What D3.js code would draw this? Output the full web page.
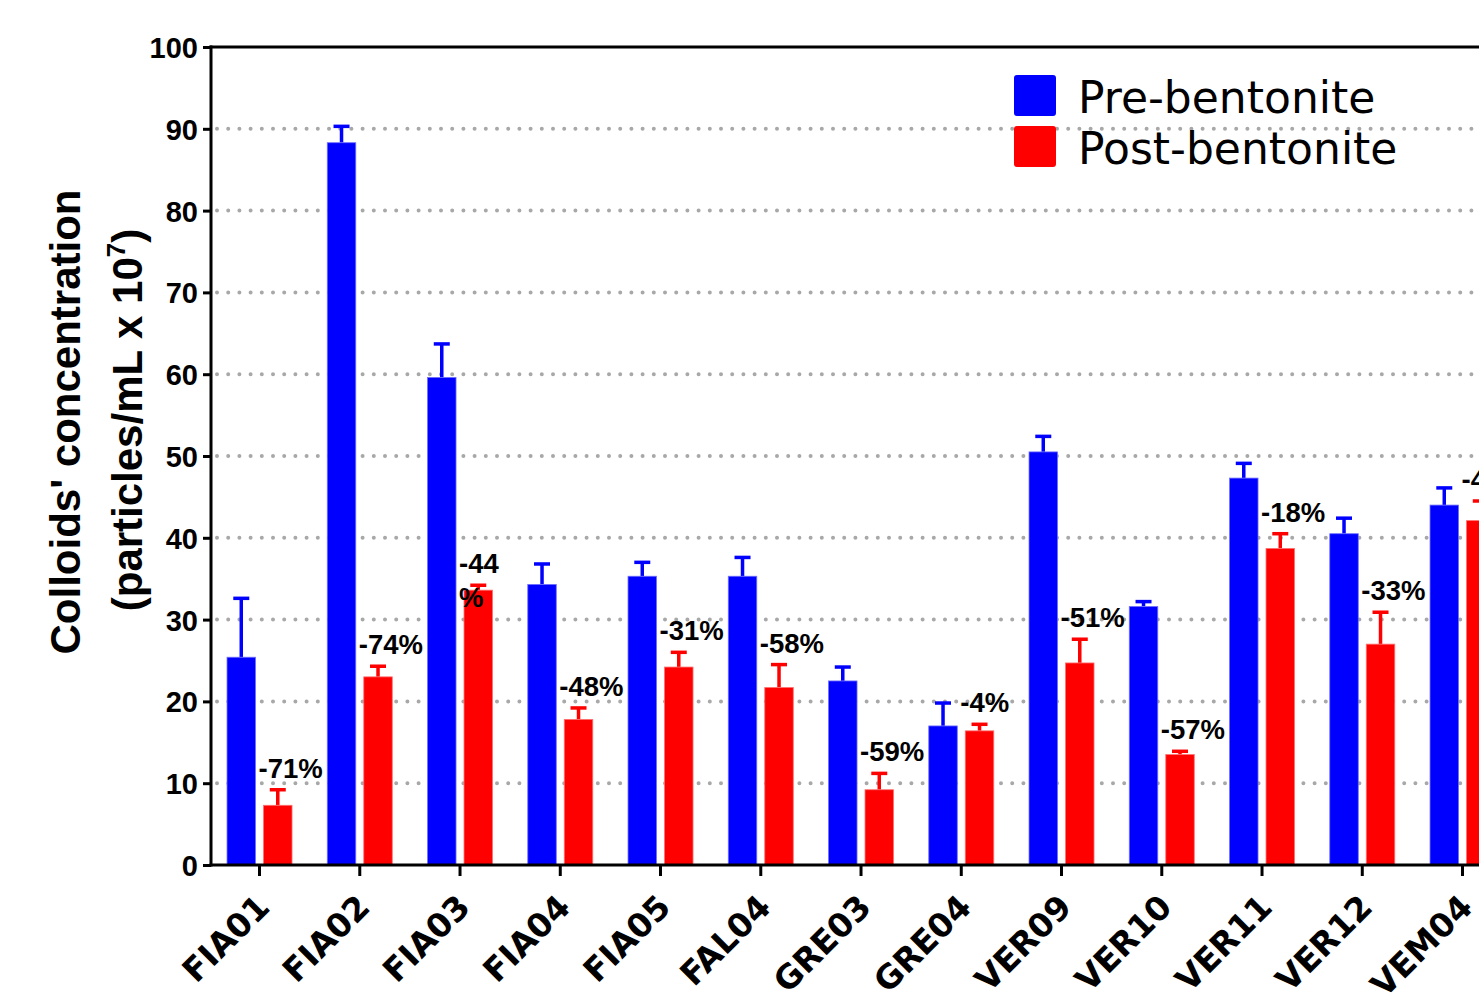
<!DOCTYPE html>
<html>
<head>
<meta charset="utf-8">
<script src="https://cdn.jsdelivr.net/npm/d3@7"></script>
<style>
  html, body { margin: 0; padding: 0; background: #fff; }
  svg { display: block; }
</style>
</head>
<body>
<svg id="chart" width="1479" height="998"></svg>
<script>
// Colloid concentration before and after bentonite fining, per wine sample
const categories = ["FIA01", "FIA02", "FIA03", "FIA04", "FIA05", "FAL04", "GRE03",
                    "GRE04", "VER09", "VER10", "VER11", "VER12", "VEM04"];
const preValues  = [25.4, 88.3, 59.6, 34.3, 35.3, 35.3, 22.5, 17.0, 50.5, 31.6, 47.3, 40.5, 44.0];
const preErrors  = [7.2, 2.0, 4.1, 2.5, 1.7, 2.3, 1.7, 2.8, 1.9, 0.6, 1.8, 1.9, 2.1];
const postValues = [7.3, 23.0, 33.6, 17.8, 24.2, 21.7, 9.2, 16.4, 24.7, 13.5, 38.7, 27.0, 42.1];
const postErrors = [1.9, 1.3, 0.6, 1.4, 1.8, 2.8, 2.0, 0.8, 2.9, 0.4, 1.8, 3.9, 2.4];
const changeLabels = [["-71%"], ["-74%"], ["-44", "%"], ["-48%"], ["-31%"], ["-58%"], ["-59%"],
                      ["-4%"], ["-51%"], ["-57%"], ["-18%"], ["-33%"], ["-4%"]];
const seriesNames = ["Pre-bentonite", "Post-bentonite"];
const seriesColors = ["#0000ff", "#ff0000"];
const yTicks = [0, 10, 20, 30, 40, 50, 60, 70, 80, 90, 100];

const svg = d3.select("#chart");
const W = 1479, H = 998;
const plot = { left: 211, top: 47, bottom: 865, step: 100.25 };

const x = d3.scaleBand()
  .domain(categories)
  .range([plot.left - 1.6, plot.left - 1.6 + plot.step * categories.length])
  .padding(0);

const inner = d3.scaleBand()
  .domain([0, 1])
  .range([-32.5, 32.5])
  .paddingInner(8 / 36.5)
  .paddingOuter(0);

const y = d3.scaleLinear().domain([0, 100]).range([plot.bottom, plot.top]);

const cx = c => x(c) + x.bandwidth() / 2;

svg.append("rect").attr("width", W).attr("height", H).attr("fill", "#fff");

// dotted horizontal gridlines
svg.append("g")
  .selectAll("line")
  .data(yTicks.filter(t => t > 0 && t < 100))
  .join("line")
  .attr("x1", plot.left + 6).attr("x2", W + 10)
  .attr("y1", d => y(d)).attr("y2", d => y(d))
  .attr("stroke", "#a8a8a8")
  .attr("stroke-width", 4)
  .attr("stroke-linecap", "round")
  .attr("stroke-dasharray", "0 11.2");

// bars and upper error bars
const rows = categories.map((c, i) => ({
  cat: c,
  bars: [
    { s: 0, v: preValues[i], e: preErrors[i] },
    { s: 1, v: postValues[i], e: postErrors[i] }
  ]
}));

const groups = svg.append("g")
  .selectAll("g")
  .data(rows)
  .join("g")
  .attr("transform", d => `translate(${cx(d.cat)},0)`);

groups.selectAll("line.err")
  .data(d => d.bars)
  .join("line")
  .attr("class", "err")
  .attr("x1", d => inner(d.s) + inner.bandwidth() / 2)
  .attr("x2", d => inner(d.s) + inner.bandwidth() / 2)
  .attr("y1", d => y(d.v))
  .attr("y2", d => y(d.v + d.e))
  .attr("stroke", d => seriesColors[d.s])
  .attr("stroke-width", 3.5);

groups.selectAll("line.cap")
  .data(d => d.bars)
  .join("line")
  .attr("class", "cap")
  .attr("x1", d => inner(d.s) + inner.bandwidth() / 2 - 8)
  .attr("x2", d => inner(d.s) + inner.bandwidth() / 2 + 8)
  .attr("y1", d => y(d.v + d.e))
  .attr("y2", d => y(d.v + d.e))
  .attr("stroke", d => seriesColors[d.s])
  .attr("stroke-width", 3.5);

groups.selectAll("rect")
  .data(d => d.bars)
  .join("rect")
  .attr("x", d => inner(d.s))
  .attr("width", inner.bandwidth())
  .attr("y", d => y(d.v))
  .attr("height", d => y(0) - y(d.v))
  .attr("fill", d => seriesColors[d.s])
  .attr("stroke", d => d.s === 0 ? "#6f6fff" : "#ff7070")
  .attr("stroke-width", 0.8);

// percentage change labels above the post-bentonite bars
const lbl = svg.append("g")
  .selectAll("text")
  .data(categories.map((c, i) => ({ c, lines: changeLabels[i], top: postValues[i] + postErrors[i] })))
  .join("text")
  .attr("x", d => cx(d.c) - 1)
  .attr("y", d => y(d.top) - 12)
  .attr("font-family", "'Liberation Sans', Arial, sans-serif")
  .attr("font-weight", "bold")
  .attr("font-size", 27.5)
  .attr("fill", "#000");
lbl.each(function (d) {
  const t = d3.select(this);
  d.lines.forEach((s, k) => {
    t.append("tspan").attr("x", cx(d.c) - 1).attr("dy", k === 0 ? 0 : 34).text(s);
  });
});

// axes
const axisFont = "'Liberation Sans', Arial, sans-serif";

const yAxis = svg.append("g")
  .attr("transform", `translate(${plot.left},0)`)
  .call(d3.axisLeft(y).tickValues(yTicks).tickSize(8).tickPadding(5).tickFormat(d3.format("d")));
yAxis.select(".domain").remove();
yAxis.selectAll(".tick line").attr("stroke", "#000").attr("stroke-width", 3);
yAxis.selectAll(".tick text")
  .attr("font-family", axisFont)
  .attr("font-weight", "bold")
  .attr("font-size", 29)
  .attr("fill", "#000")
  .attr("dy", "0.36em");

const xAxis = svg.append("g")
  .attr("transform", `translate(0,${plot.bottom})`)
  .call(d3.axisBottom(x).tickSize(11).tickPadding(0));
xAxis.select(".domain").remove();
xAxis.selectAll(".tick line").attr("stroke", "#000").attr("stroke-width", 3);
xAxis.selectAll(".tick text")
  .attr("font-family", "'DejaVu Sans', sans-serif")
  .attr("font-weight", "bold")
  .attr("font-size", 33)
  .attr("fill", "#000")
  .attr("text-anchor", "end")
  .attr("dy", 0)
  .attr("y", 0)
  .attr("transform", "translate(12,44) rotate(-45)");

// frame: left axis, bottom axis, top border
svg.append("line")
  .attr("x1", plot.left).attr("x2", plot.left)
  .attr("y1", plot.top - 1.5).attr("y2", plot.bottom + 1.5)
  .attr("stroke", "#000").attr("stroke-width", 3);
svg.append("line")
  .attr("x1", plot.left - 1.5).attr("x2", W + 5)
  .attr("y1", plot.bottom).attr("y2", plot.bottom)
  .attr("stroke", "#000").attr("stroke-width", 3);
svg.append("line")
  .attr("x1", plot.left - 1.5).attr("x2", W + 5)
  .attr("y1", plot.top).attr("y2", plot.top)
  .attr("stroke", "#000").attr("stroke-width", 3);

// y-axis title (two lines)
const title = svg.append("g")
  .attr("font-family", axisFont)
  .attr("font-weight", "bold")
  .attr("font-size", 42)
  .attr("fill", "#000")
  .attr("text-anchor", "middle");
title.append("text")
  .attr("transform", "translate(80,422) rotate(-90)")
  .text("Colloids' concentration");
const t2 = title.append("text")
  .attr("transform", "translate(142,420) rotate(-90)");
t2.append("tspan").text("(particles/mL x 10");
t2.append("tspan").attr("font-size", 26).attr("dy", -17).text("7");
t2.append("tspan").attr("dy", 17).text(")");

// legend
const legend = svg.append("g").attr("transform", "translate(1014,75)");
seriesNames.forEach((name, i) => {
  const g = legend.append("g").attr("transform", `translate(0,${i * 51})`);
  g.append("rect")
    .attr("x", 1).attr("y", 1)
    .attr("width", 40).attr("height", 39)
    .attr("rx", 2)
    .attr("fill", seriesColors[i])
    .attr("stroke", seriesColors[i])
    .attr("stroke-width", 2);
  g.append("text")
    .attr("x", 64).attr("y", 38)
    .attr("font-family", "'DejaVu Sans', sans-serif")
    .attr("font-size", 44)
    .attr("fill", "#000")
    .text(name);
});
</script>
</body>
</html>
